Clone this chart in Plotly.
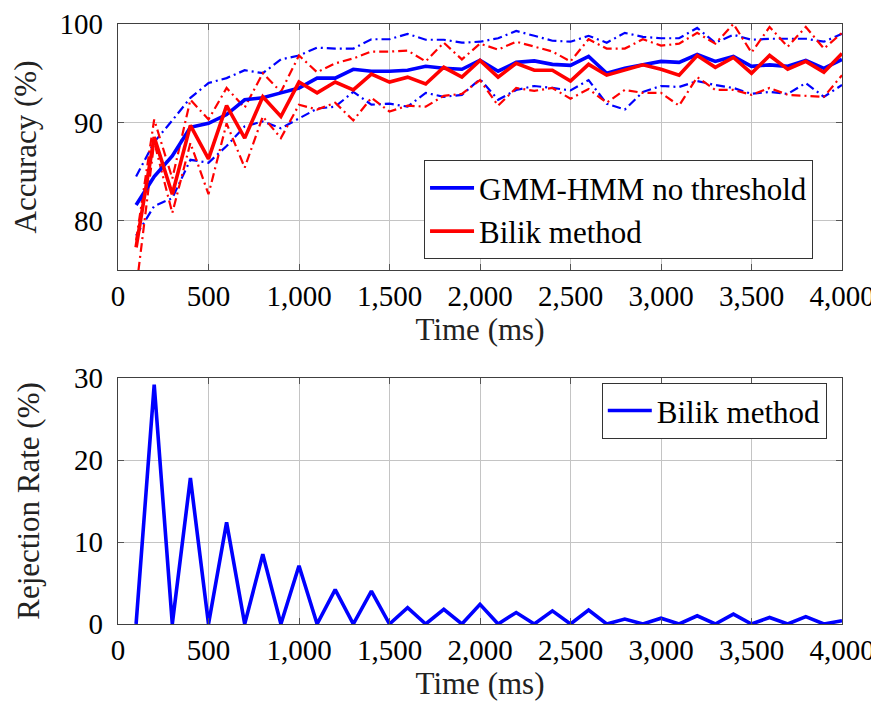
import plotly.graph_objects as go

time_ms = [100, 200, 300, 400, 500, 600, 700, 800, 900, 1000,
           1100, 1200, 1300, 1400, 1500, 1600, 1700, 1800, 1900, 2000,
           2100, 2200, 2300, 2400, 2500, 2600, 2700, 2800, 2900, 3000,
           3100, 3200, 3300, 3400, 3500, 3600, 3700, 3800, 3900, 4000]

gmm_mean = [81.6, 84.5, 86.6, 89.5, 89.9, 90.8, 92.3, 92.5, 93.0, 93.5,
            94.5, 94.5, 95.4, 95.2, 95.2, 95.3, 95.7, 95.5, 95.4, 96.3,
            95.2, 96.1, 96.25, 95.9, 95.8, 96.7, 95.0, 95.5, 95.85, 96.2,
            96.1, 96.9, 96.2, 96.7, 95.7, 95.85, 95.7, 96.3, 95.5, 96.4]
gmm_upper = [84.5, 88.0, 90.2, 92.5, 94.0, 94.5, 95.3, 95.0, 96.4, 96.8,
             97.6, 97.5, 97.5, 98.45, 98.45, 99.0, 98.4, 98.4, 98.1, 98.2,
             98.55, 99.3, 98.8, 98.3, 98.2, 98.8, 98.1, 99.1, 98.7, 98.55,
             98.55, 99.6, 98.1, 98.9, 98.4, 98.5, 98.5, 98.5, 98.2, 99.0]
gmm_lower = [78.5, 81.5, 82.3, 86.2, 85.9, 87.6, 89.6, 90.1, 89.4, 90.4,
             91.4, 91.6, 93.1, 91.8, 91.9, 91.6, 93.0, 92.6, 92.8, 94.4,
             92.3, 93.3, 93.7, 93.5, 93.25, 94.3, 91.9, 91.3, 93.1, 93.7,
             93.6, 94.2, 93.8, 93.5, 92.9, 93.1, 92.9, 94.0, 92.6, 93.8]

bilik_mean = [77.3, 88.5, 82.7, 89.7, 86.3, 91.7, 88.4, 92.6, 90.6, 94.1,
              93.0, 94.1, 93.3, 94.9, 94.1, 94.6, 93.9, 95.6, 94.6, 96.3,
              94.6, 96.0, 95.3, 95.3, 94.2, 95.9, 94.8, 95.3, 95.85, 95.4,
              94.8, 96.8, 95.6, 96.6, 95.0, 96.8, 95.4, 96.2, 95.1, 97.0]
bilik_upper = [78.0, 90.3, 84.3, 92.3, 90.3, 93.5, 91.5, 95.0, 93.1, 96.8,
               95.1, 96.0, 96.5, 97.2, 97.2, 97.3, 96.2, 98.1, 96.4, 98.0,
               97.4, 98.2, 97.7, 97.2, 96.2, 98.45, 97.5, 97.5, 98.45, 97.8,
               98.0, 99.1, 98.0, 100.0, 97.1, 99.7, 97.7, 99.7, 97.5, 99.1]
bilik_lower = [73.0, 88.0, 80.8, 87.9, 82.7, 89.9, 85.4, 90.6, 88.4, 91.8,
               91.3, 92.0, 90.2, 92.5, 91.1, 91.7, 91.6, 92.7, 92.9, 94.3,
               91.7, 93.5, 93.2, 93.5, 92.4, 93.4, 92.0, 93.3, 93.0, 93.0,
               91.7, 94.6, 93.3, 93.3, 92.8, 93.5, 92.8, 92.7, 92.6, 94.8]

rejection = [0, 29.2, 0, 17.8, 0, 12.4, 0, 8.5, 0, 7.1,
             0, 4.2, 0, 4.0, 0, 2.0, 0, 1.8, 0, 2.4,
             0, 1.4, 0, 1.6, 0, 1.7, 0, 0.6, 0, 0.7,
             0, 1.0, 0, 1.2, 0, 0.8, 0, 0.9, 0, 0.4]

BLUE = "#0000ff"
RED = "#ff0000"
FONT = "Liberation Serif"
DASHDOT = "9px,4px,2px,4px"

fig = go.Figure()

for ys, col in [(gmm_upper, BLUE), (gmm_lower, BLUE), (bilik_upper, RED), (bilik_lower, RED)]:
    fig.add_trace(go.Scatter(x=time_ms, y=ys, mode="lines", showlegend=False,
                             line=dict(color=col, width=2.2, dash=DASHDOT),
                             xaxis="x", yaxis="y", hoverinfo="skip"))

fig.add_trace(go.Scatter(x=time_ms, y=gmm_mean, mode="lines", name="GMM-HMM no threshold",
                         line=dict(color=BLUE, width=3.6), xaxis="x", yaxis="y", legend="legend"))
fig.add_trace(go.Scatter(x=time_ms, y=bilik_mean, mode="lines", name="Bilik method",
                         line=dict(color=RED, width=3.6), xaxis="x", yaxis="y", legend="legend"))

fig.add_trace(go.Scatter(x=time_ms, y=rejection, mode="lines", name="Bilik method",
                         line=dict(color=BLUE, width=3.6), xaxis="x2", yaxis="y2", legend="legend2"))

axis_common = dict(
    showline=True, linecolor="#404040", linewidth=1.2, mirror="ticks",
    ticks="inside", ticklen=6, tickcolor="#555555", tickwidth=1,
    showgrid=True, gridcolor="#c4c4c4", gridwidth=1, zeroline=False,
    tickfont=dict(family=FONT, size=29, color="black"), automargin=False,
)
title_font = dict(family=FONT, size=31, color="#222222")
xtitle = lambda: dict(text="Time (ms)", font=title_font, standoff=4)

# the page body has an 8px default margin, so the figure is drawn at (8, 8)
fig.update_layout(
    width=871, height=694,
    margin=dict(l=110, r=37, t=16, b=78),
    paper_bgcolor="white", plot_bgcolor="white",
    font=dict(family=FONT, size=29, color="black"),
    xaxis=dict(domain=[0, 1], range=[0, 4000], dtick=500, tick0=0, tickformat=",",
               anchor="y", title=xtitle(), **axis_common),
    yaxis=dict(domain=[0.59, 1], range=[75, 100], tickvals=[80, 90, 100], anchor="x",
               ticklabelstandoff=8,
               title=dict(text="Accuracy (%)", font=title_font, standoff=25), **axis_common),
    xaxis2=dict(domain=[0, 1], range=[0, 4000], dtick=500, tick0=0, tickformat=",",
                anchor="y2", title=xtitle(), **axis_common),
    yaxis2=dict(domain=[0, 0.41], range=[0, 30], tickvals=[0, 10, 20, 30], anchor="x2",
                ticklabelstandoff=8,
                title=dict(text="Rejection Rate (%)", font=title_font, standoff=25), **axis_common),
    legend=dict(x=0.96, y=0.608, xanchor="right", yanchor="bottom",
                bgcolor="white", bordercolor="#333333", borderwidth=1,
                font=dict(family=FONT, size=31, color="black"), itemwidth=44,
                tracegroupgap=0),
    legend2=dict(x=0.979, y=0.402, xanchor="right", yanchor="top",
                 bgcolor="white", bordercolor="#333333", borderwidth=1,
                 font=dict(family=FONT, size=31, color="black"), itemwidth=44),
)

fig.write_html("out.html")
